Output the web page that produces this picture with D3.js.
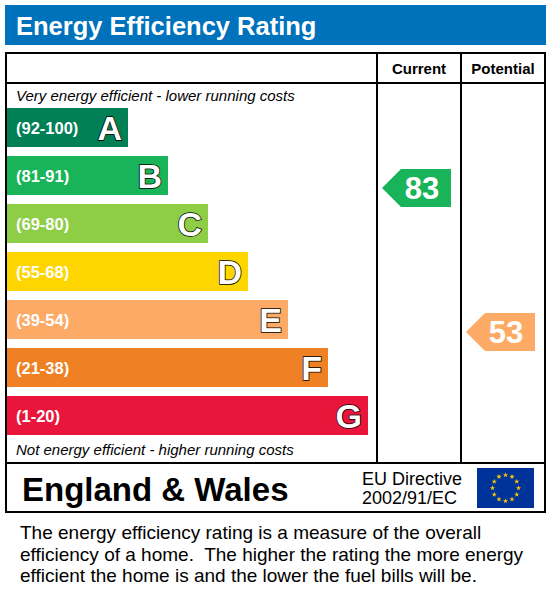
<!DOCTYPE html>
<html><head><meta charset="utf-8">
<script src="https://cdn.jsdelivr.net/npm/d3@7"></script>
<style>body{margin:0;background:#fff}text{font-family:Arial,"Liberation Sans",sans-serif;white-space:pre}</style>
</head><body><div id="chart"></div>
<script>
var bands = ["A","B","C","D","E","F","G"];
var ranges = ["(92-100)","(81-91)","(69-80)","(55-68)","(39-54)","(21-38)","(1-20)"];
var colours = ["#008054","#19b459","#8dce46","#ffd500","#fcaa65","#ef8023","#e9153b"];
var ratings = [{label: "Current", value: 83, band: "B"}, {label: "Potential", value: 53, band: "E"}];
var description = ["The energy efficiency rating is a measure of the overall",
  "efficiency of a home.  The higher the rating the more energy",
  "efficient the home is and the lower the fuel bills will be."];

var svg = d3.select("#chart").append("svg").attr("width", 552).attr("height", 613);

svg.append("rect").attr("x", 5).attr("y", 5).attr("width", 541).attr("height", 40).attr("fill", "#0072bc");
svg.append("text").attr("x", 16).attr("y", 35).attr("fill", "#fff").attr("font-size", 25.5).attr("font-weight", "bold").text("Energy Efficiency Rating");

var g = svg.append("g").attr("fill", "none").attr("stroke", "#000").attr("stroke-width", 2);
g.append("rect").attr("x", 6).attr("y", 53).attr("width", 539).attr("height", 459);
g.append("line").attr("x1", 6).attr("x2", 545).attr("y1", 83).attr("y2", 83);
g.append("line").attr("x1", 6).attr("x2", 545).attr("y1", 463).attr("y2", 463);
g.append("line").attr("x1", 377).attr("x2", 377).attr("y1", 53).attr("y2", 463);
g.append("line").attr("x1", 461).attr("x2", 461).attr("y1", 53).attr("y2", 463);

var cols = d3.scaleBand().domain(ratings.map(function (d) { return d.label; })).range([377, 545]);
svg.selectAll("text.head").data(ratings).enter().append("text").attr("class", "head")
  .attr("x", function (d) { return cols(d.label) + cols.bandwidth() / 2; }).attr("y", 74)
  .attr("text-anchor", "middle").attr("font-size", 15).attr("font-weight", "bold").text(function (d) { return d.label; });

svg.append("text").attr("x", 16).attr("y", 101).attr("font-size", 15).attr("font-style", "italic").text("Very energy efficient - lower running costs");
svg.append("text").attr("x", 16).attr("y", 455).attr("font-size", 15).attr("font-style", "italic").text("Not energy efficient - higher running costs");

var y = d3.scaleBand().domain(bands).range([108, 435]).paddingInner(9 / 48);
var w = d3.scaleLinear().domain([0, 6]).range([121, 361]);

var bar = svg.selectAll("g.band").data(bands).enter().append("g").attr("class", "band")
  .attr("transform", function (d) { return "translate(7," + y(d) + ")"; });
bar.append("rect").attr("width", function (d, i) { return w(i); }).attr("height", y.bandwidth())
  .attr("fill", function (d, i) { return colours[i]; });
bar.append("text").attr("x", 9).attr("y", y.bandwidth() / 2 + 6).attr("fill", "#fff").attr("font-size", 16.5).attr("font-weight", "bold")
  .text(function (d, i) { return ranges[i]; });
bar.append("text").attr("x", function (d, i) { return w(i) - 6; }).attr("y", y.bandwidth() / 2 + 12)
  .attr("text-anchor", "end").attr("font-size", 34).attr("font-weight", "bold")
  .attr("fill", "#fff").attr("stroke", "#000").attr("stroke-width", 1.5).attr("paint-order", "stroke")
  .text(function (d) { return d; });

var arrows = svg.selectAll("g.arrow").data(ratings).enter().append("g").attr("class", "arrow")
  .attr("transform", function (d) { return "translate(" + (cols(d.label) + 5) + "," + (y(d.band) + 13) + ")"; });
arrows.append("path").attr("d", "M0,19 L19,0 L69,0 L69,38 L19,38 Z")
  .attr("fill", function (d) { return colours[bands.indexOf(d.band)]; });
arrows.append("text").attr("x", 40).attr("y", 30).attr("text-anchor", "middle").attr("fill", "#fff")
  .attr("font-size", 31).attr("font-weight", "bold").text(function (d) { return d.value; });

svg.append("text").attr("x", 22).attr("y", 501).attr("font-size", 33).attr("font-weight", "bold").text("England & Wales");
svg.append("text").attr("x", 362).attr("y", 485).attr("font-size", 18).text("EU Directive");
svg.append("text").attr("x", 362).attr("y", 504).attr("font-size", 18).text("2002/91/EC");

svg.append("rect").attr("x", 477).attr("y", 468).attr("width", 57).attr("height", 40).attr("fill", "#003399");
var stars = d3.range(12).map(function (i) { return i * Math.PI / 6; });
var star = d3.symbol().type(d3.symbolStar).size(9);
svg.selectAll("path.star").data(stars).enter().append("path").attr("class", "star")
  .attr("d", star).attr("fill", "#ffcc00")
  .attr("transform", function (a) { return "translate(" + (505.5 + 13 * Math.sin(a)) + "," + (488 - 13 * Math.cos(a)) + ")"; });

svg.selectAll("text.desc").data(description).enter().append("text").attr("class", "desc")
  .attr("x", 20).attr("y", function (d, i) { return 539 + i * 21.5; }).attr("font-size", 19).text(function (d) { return d; });
</script></body></html>
